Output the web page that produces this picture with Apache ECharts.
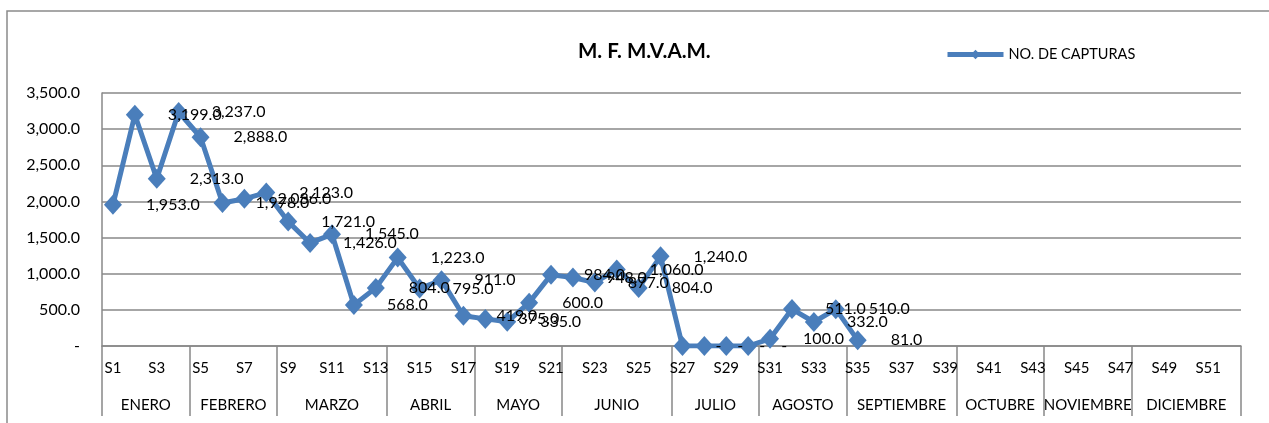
<!DOCTYPE html>
<html>
<head>
<meta charset="utf-8">
<script src="https://cdn.jsdelivr.net/npm/echarts@6/dist/echarts.min.js"></script>
<style>html,body{margin:0;padding:0;background:#fff}#c{width:1269px;height:423px}</style>
</head>
<body>
<div id="c"></div>
<script>
const weeks = ['S1','S2','S3','S4','S5','S6','S7','S8','S9','S10','S11','S12','S13','S14','S15','S16','S17','S18','S19','S20','S21','S22','S23','S24','S25','S26','S27','S28','S29','S30','S31','S32','S33','S34','S35','S36','S37','S38','S39','S40','S41','S42','S43','S44','S45','S46','S47','S48','S49','S50','S51','S52'];
const capturas = [1953,3199,2313,3237,2888,1978,2036,2123,1721,1426,1545,568,804,1223,795,911,419,375,335,600,984,948,877,1060,804,1240,0,0,0,0,100,511,332,510,81,null,null,null,null,null,null,null,null,null,null,null,null,null,null,null,null,null];
const months = ['ENERO','FEBRERO','MARZO','ABRIL','MAYO','JUNIO','JULIO','AGOSTO','SEPTIEMBRE','OCTUBRE','NOVIEMBRE','DICIEMBRE'];
const monthWeeks = [4,4,5,4,4,5,4,4,5,4,4,5];
const yTicks = [0,500,1000,1500,2000,2500,3000,3500];

const bounds = [0];
const centers = [];
monthWeeks.forEach(n => { const s = bounds[bounds.length-1]; centers.push(s + n/2); bounds.push(s + n); });

function fmt(v){
  if (v === 0) return '-';
  return v.toLocaleString('en-US',{minimumFractionDigits:1,maximumFractionDigits:1});
}
const FONT = 'Lato, "Open Sans", sans-serif';
const chart = echarts.init(document.getElementById('c'), null, {renderer:'canvas'});
chart.setOption({
  animation:false,
  textStyle:{fontFamily:FONT},
  title:{text:'M. F. M.V.A.M.', left:573, top:36, textStyle:{fontFamily:FONT,fontSize:20.5,fontWeight:'bold',color:'#000'}},
  legend:{left:940, top:42, itemWidth:56, itemHeight:12, itemGap:4,
    lineStyle:{width:5},
    textStyle:{fontFamily:FONT,fontSize:14.5,color:'#000'}, data:['NO. DE CAPTURAS']},
  graphic:[{type:'rect', shape:{x:7,y:11,width:1400,height:600}, style:{fill:'none',stroke:'#8a8a8a',lineWidth:1.5}, silent:true}],
  grid:{left:102, right:28, top:93, bottom:77},
  xAxis:[
    {type:'category', data:weeks, boundaryGap:true,
     axisLine:{show:true,lineStyle:{color:'#888',width:1.5}},
     axisTick:{show:false},
     axisLabel:{interval:1, margin:15, fontSize:15, fontFamily:FONT, color:'#000'}},
    {type:'value', min:0, max:52, position:'bottom', offset:0,
     axisLine:{show:false}, splitLine:{show:false},
     axisTick:{show:true, length:70, customValues:bounds, lineStyle:{color:'#888',width:1.5}},
     axisLabel:{show:true, customValues:centers, margin:52, fontSize:15, fontFamily:FONT, color:'#000',
       formatter:function(v){ const i = centers.findIndex(c=>Math.abs(c-v)<1e-6); return i>=0?months[i]:''; }}}
  ],
  yAxis:{type:'value', min:0, max:3500, interval:500,
    axisLine:{show:true,lineStyle:{color:'#888',width:1.5}},
    axisTick:{show:false},
    splitLine:{show:true,lineStyle:{color:'#888',width:1.5}},
    axisLabel:{margin:22, fontSize:16, fontFamily:FONT, color:'#000', formatter:fmt}},
  series:[{
    name:'NO. DE CAPTURAS', type:'line', xAxisIndex:0, data:capturas,
    connectNulls:false, showAllSymbol:true,
    symbol:'diamond', symbolSize:[18,20],
    lineStyle:{color:'#4A7EBB', width:5},
    itemStyle:{color:'#4A7EBB'},
    labelLayout:{hideOverlap:false},
    label:{show:true, position:'right', distance:24, fontSize:16, fontFamily:FONT, color:'#000',
      formatter:function(p){ return p.value==null?'':fmt(p.value); }}
  }]
});
</script>
</body>
</html>
